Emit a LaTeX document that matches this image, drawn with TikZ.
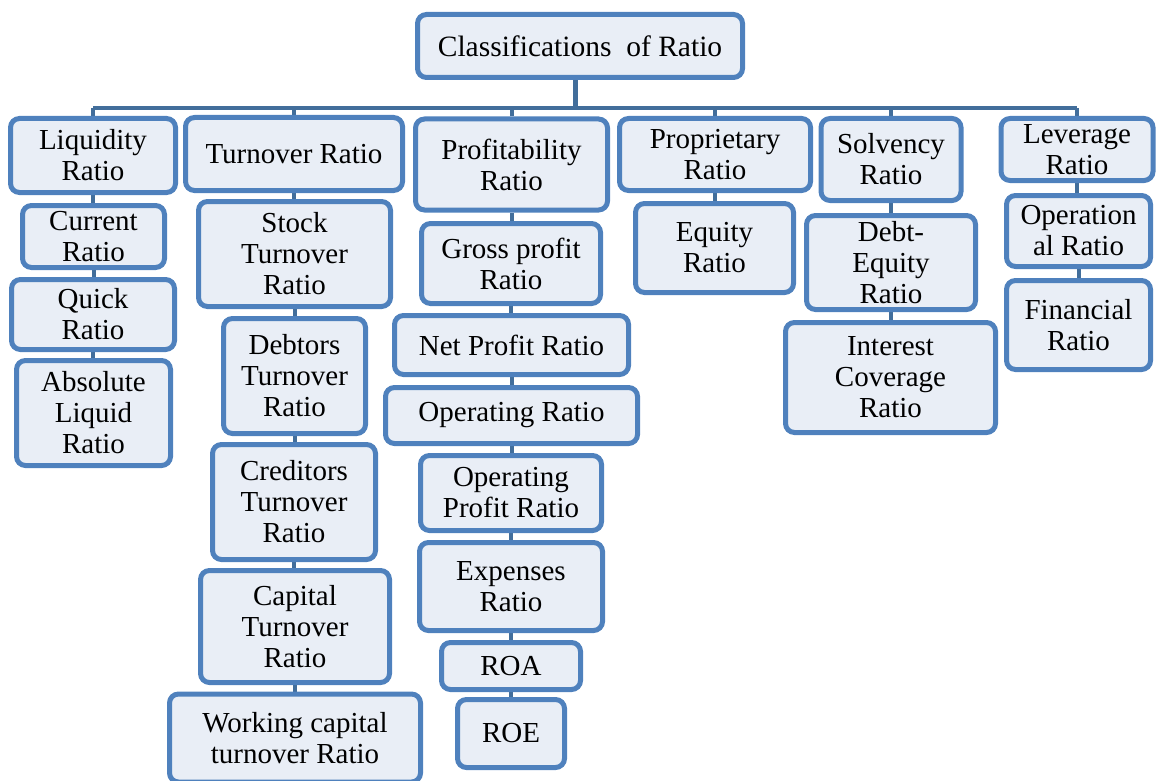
\documentclass[tikz,border=0pt]{standalone}
\usepackage{fontspec}
\setmainfont{Liberation Serif}
\usetikzlibrary{backgrounds}

\definecolor{boxblue}{RGB}{79,129,189}
\definecolor{boxfill}{RGB}{233,238,246}
\definecolor{linkblue}{RGB}{66,110,155}

\begin{document}
\begin{tikzpicture}[x=1pt,y=-1pt,
  box/.style={draw=boxblue, fill=boxfill, line width=5pt, rounded corners=9pt,
    align=center, inner sep=0pt, font=\fontsize{29}{31}\selectfont},
  rootbox/.style={box, font=\fontsize{29.5}{33}\selectfont},
  link/.style={draw=linkblue, line width=4pt},
  stem/.style={draw=linkblue, line width=5pt}]
\useasboundingbox (0,0) rectangle (1156,781);

% top of the hierarchy
\node[rootbox, minimum width=325pt, minimum height=63pt] (root) at (580,46) {Classifications\ \ of Ratio};

% first level
\node[box, minimum width=165pt, minimum height=74pt] (liq) at (93,155.5) {Liquidity\\Ratio};
\node[box, minimum width=217pt, minimum height=73pt] (turn) at (294,154) {Turnover Ratio};
\node[box, minimum width=192pt, minimum height=91pt] (prof) at (511.5,164.5) {Profitability\\Ratio};
\node[box, minimum width=191pt, minimum height=72pt] (prop) at (715,154.5) {Proprietary\\Ratio};
\node[box, minimum width=140pt, minimum height=82pt] (solv) at (891,159.5) {Solvency\\Ratio};
\node[box, minimum width=152pt, minimum height=62pt] (lev) at (1077,149.5) {Leverage\\Ratio};

% liquidity ratios
\node[box, minimum width=142pt, minimum height=62pt] (cur) at (93.5,236.5) {Current\\Ratio};
\node[box, minimum width=163pt, minimum height=70pt] (quick) at (93,314.5) {Quick\\Ratio};
\node[box, minimum width=154pt, minimum height=105pt] (abs) at (93.5,413) {Absolute\\Liquid\\Ratio};

% turnover ratios
\node[box, minimum width=192pt, minimum height=105pt] (stock) at (294.5,254) {Stock\\Turnover\\Ratio};
\node[box, minimum width=142pt, minimum height=115pt] (debt) at (294.5,376) {Debtors\\Turnover\\Ratio};
\node[box, minimum width=163pt, minimum height=115pt] (cred) at (294,502) {Creditors\\Turnover\\Ratio};
\node[box, minimum width=189pt, minimum height=112pt] (cap) at (295,626.5) {Capital\\Turnover\\Ratio};
\node[box, minimum width=251pt, minimum height=88pt] (work) at (295,738) {Working capital\\turnover Ratio};

% profitability ratios
\node[box, minimum width=179pt, minimum height=80pt] (gross) at (511,263.5) {Gross profit\\Ratio};
\node[box, minimum width=234pt, minimum height=59pt] (net) at (511.5,345) {Net Profit Ratio};
\node[box, minimum width=252pt, minimum height=56pt] (oper) at (511.5,415.5) {Operating Ratio};
\node[box, minimum width=181pt, minimum height=75pt] (opprof) at (511,493) {Operating\\Profit Ratio};
\node[box, minimum width=183pt, minimum height=88pt] (exp) at (511,586.5) {Expenses\\Ratio};
\node[box, minimum width=139pt, minimum height=47pt] (roa) at (511,666) {ROA};
\node[box, minimum width=107pt, minimum height=68pt] (roe) at (511,733.5) {ROE};

% proprietary ratio
\node[box, minimum width=158pt, minimum height=89pt] (eq) at (714.5,248) {Equity\\Ratio};

% solvency ratios
\node[box, minimum width=169pt, minimum height=94pt] (de) at (891,262.5) {Debt-\\Equity\\Ratio};
\node[box, minimum width=210pt, minimum height=110pt] (int) at (890.5,377.5) {Interest\\Coverage\\Ratio};

% leverage ratios
\node[box, minimum width=144pt, minimum height=71pt] (opl) at (1078.5,231) {Operation\\al Ratio};
\node[box, minimum width=144pt, minimum height=89pt] (fin) at (1078.5,325) {Financial\\Ratio};

\coordinate (bar) at (575,108);

\begin{scope}[on background layer]
  % trunk and horizontal bar
  \draw[stem] (bar) -- (bar |- root.south);
  \draw[link] (liq.north |- bar) -- (lev.north |- bar);
  \foreach \n in {liq,turn,prof,prop,solv,lev}
    \draw[link] (\n.north) -- (\n.north |- bar);
  % links inside each column
  \foreach \a/\b in {liq/cur, cur/quick, quick/abs,
                     turn/stock, stock/debt, debt/cred, cred/cap, cap/work,
                     prof/gross, gross/net, net/oper, oper/opprof, opprof/exp, exp/roa, roa/roe,
                     prop/eq, solv/de, de/int, lev/opl, opl/fin}
    \draw[link] (\a.south) -- (\a.south |- \b.north);
\end{scope}
\end{tikzpicture}
\end{document}
